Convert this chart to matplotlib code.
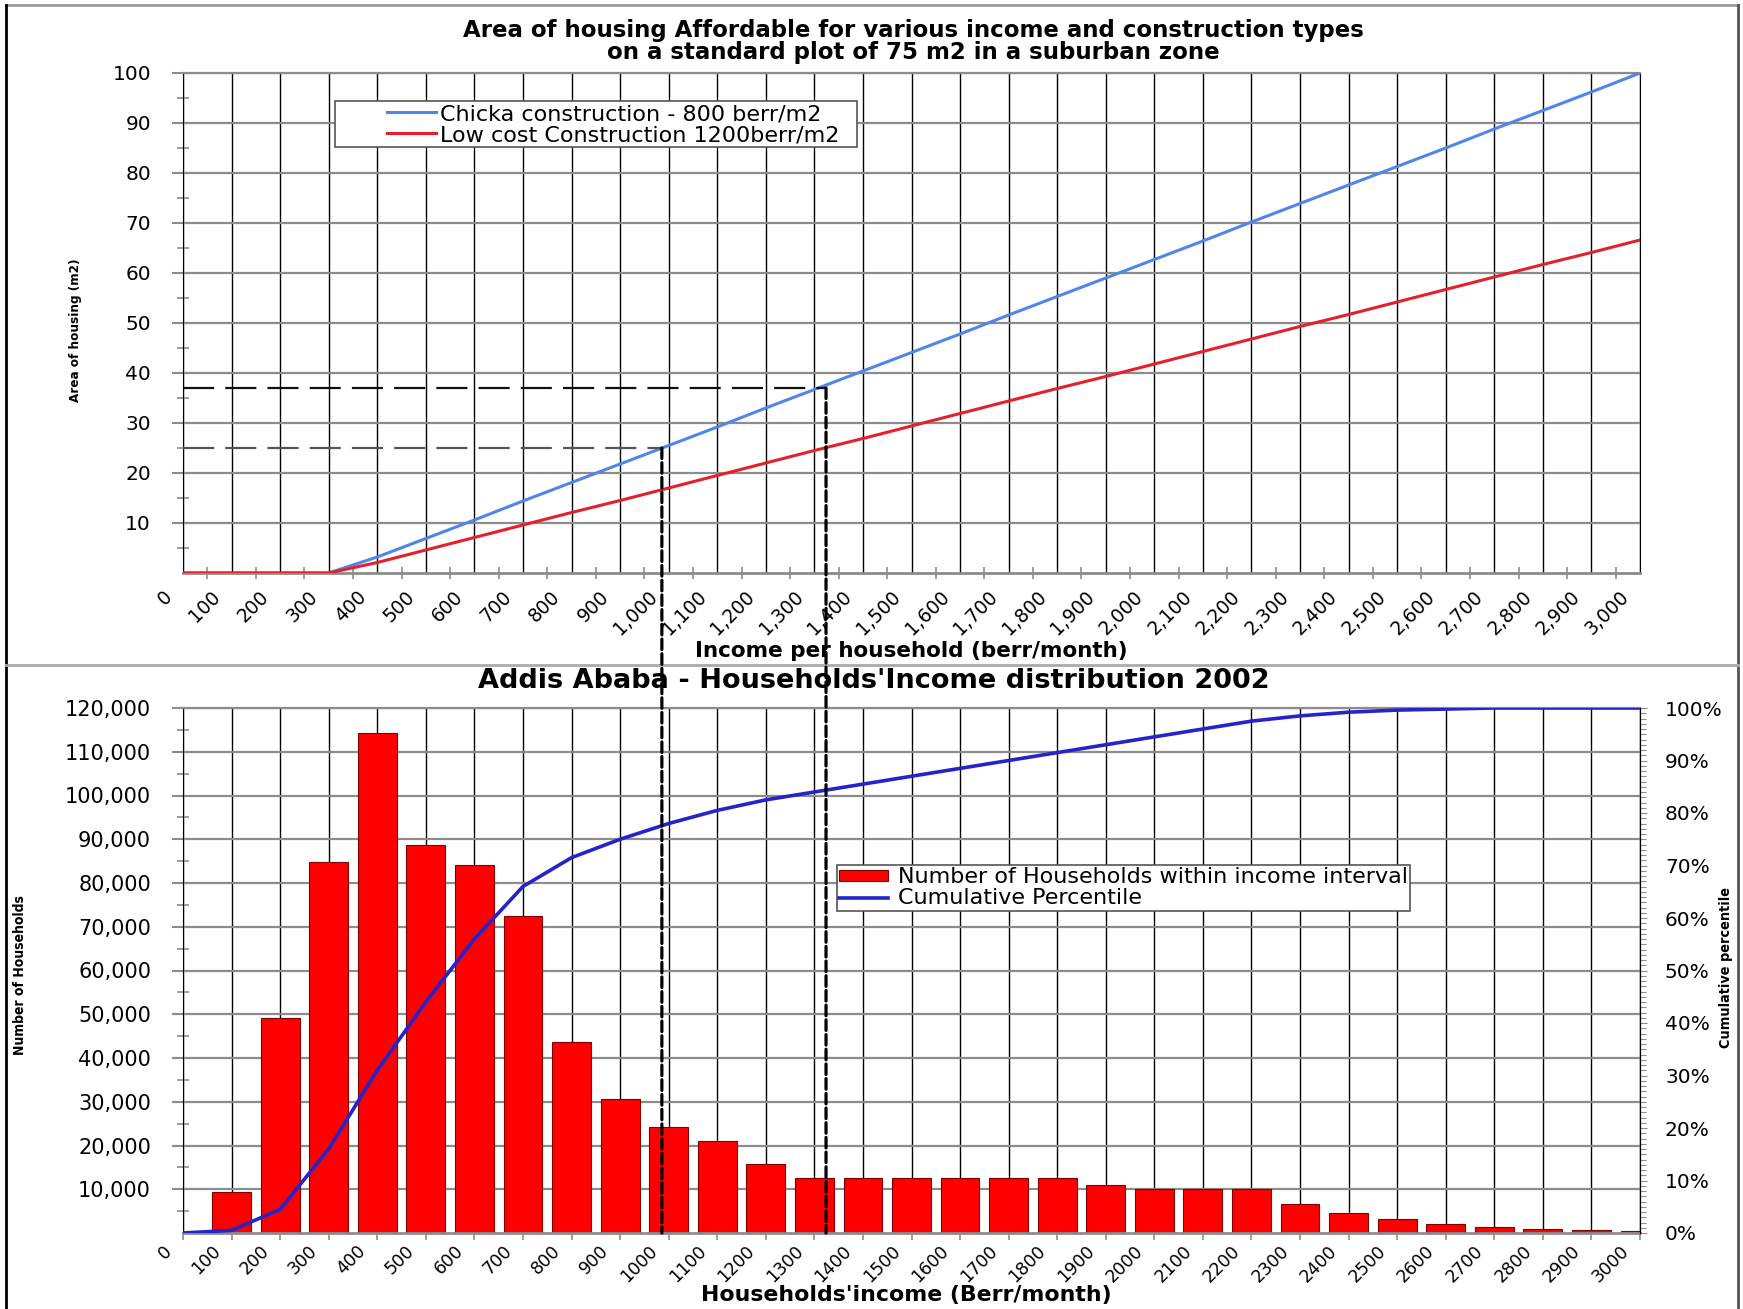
import matplotlib.pyplot as plt
import numpy as np
from matplotlib.lines import Line2D
from matplotlib.patches import Rectangle, ConnectionPatch
from matplotlib.transforms import ScaledTranslation

W, H = 1743, 1309

# categories (income per household, berr/month)
income = [0, 100, 200, 300, 400, 500, 600, 700, 800, 900, 1000,
          1100, 1200, 1300, 1400, 1500, 1600, 1700, 1800, 1900, 2000,
          2100, 2200, 2300, 2400, 2500, 2600, 2700, 2800, 2900, 3000]

# top chart: affordable area (m2)
chicka_area = [0, 0, 0, 0, 3.2, 6.9, 10.6, 14.4, 18.1, 21.8, 25.5,
               29.2, 33.0, 36.7, 40.4, 44.1, 47.8, 51.6, 55.3, 59.0, 62.7,
               66.4, 70.2, 73.9, 77.6, 81.3, 85.0, 88.8, 92.5, 96.2, 100.0]
lowcost_area = [0, 0, 0, 0, 2.1, 4.6, 7.1, 9.6, 12.1, 14.5, 17.0,
                19.5, 22.0, 24.5, 26.9, 29.4, 31.9, 34.4, 36.9, 39.3, 41.8,
                44.3, 46.8, 49.3, 51.7, 54.2, 56.7, 59.2, 61.7, 64.1, 66.6]

# bottom chart: households per income interval, cumulative percentile
households = [0, 9300, 49200, 84800, 114400, 88800, 84200, 72500, 43600, 30700, 24300,
              21100, 15700, 12500, 12500, 12500, 12500, 12500, 12500, 11000, 10100,
              10100, 10100, 6600, 4500, 3100, 2000, 1400, 1000, 700, 450]
cumulative = [0, 0.5, 4.5, 16, 31, 44, 56, 66, 71.5, 75, 78,
              80.5, 82.5, 84, 85.5, 87, 88.5, 90, 91.5, 93, 94.5,
              96, 97.5, 98.5, 99.2, 99.6, 99.8, 100, 100, 100, 100]

# reference readings (income, area)
marker_low = (986, 25)
marker_high = (1324, 37)

GRAY = '#8c8c8c'


def px(x0, y0, x1, y1):
    return [x0 / W, 1 - y1 / H, (x1 - x0) / W, (y1 - y0) / H]


fig = plt.figure(figsize=(W / 100, H / 100), dpi=100)
ax1 = fig.add_axes(px(183, 73, 1640, 573))
ax2 = fig.add_axes(px(183, 708, 1640, 1233))

# ---------- top chart ----------
ax1.plot(income, chicka_area, color='#4f86e8', lw=2.2, zorder=3,
         label='Chicka construction - 800 berr/m2')
ax1.plot(income, lowcost_area, color='#e4202a', lw=2.2, zorder=3,
         label='Low cost Construction 1200berr/m2')
ax1.plot([0, marker_high[0]], [marker_high[1]] * 2, color='#111111', lw=1.6,
         ls=(0, (14, 5)), zorder=4)
ax1.plot([0, marker_low[0]], [marker_low[1]] * 2, color='#555555', lw=1.6,
         ls=(0, (14, 5)), zorder=4)

ax1.set_xlim(0, 3000)
ax1.set_ylim(0, 100)
ax1.set_xticks(income)
ax1.set_xticklabels([f'{v:,}' for v in income], rotation=45, ha='right',
                    va='center', rotation_mode='anchor', fontsize=13.5)
ax1.set_xticks(np.arange(50, 3000, 100), minor=True)
ax1.set_yticks(range(10, 101, 10))
ax1.set_yticks(range(5, 100, 10), minor=True)
ax1.tick_params(axis='y', which='major', length=8, width=1.5, color=GRAY,
                labelsize=14.5, pad=15)
ax1.tick_params(axis='y', which='minor', length=9, width=1.2, color=GRAY,
                direction='inout')
ax1.tick_params(axis='x', which='major', length=0, pad=15)
ax1.tick_params(axis='x', which='minor', length=8, width=1.2, color=GRAY,
                direction='inout')
ax1.grid(axis='x', which='major', color='black', lw=1)
ax1.grid(axis='y', which='major', color=GRAY, lw=1.6)
ax1.grid(False, which='minor')
ax1.spines['left'].set_color('black')
ax1.spines['right'].set_color('black')
ax1.spines['top'].set_color(GRAY)
ax1.spines['top'].set_linewidth(1.6)
ax1.spines['bottom'].set_color(GRAY)
ax1.spines['bottom'].set_linewidth(2)

ax1.add_patch(Rectangle((335 / W, 1 - 147 / H), 522 / W, 46 / H,
                        transform=fig.transFigure, facecolor='white',
                        edgecolor='#555555', lw=1.2, zorder=5, clip_on=False))
leg1 = ax1.legend(loc='upper left', bbox_to_anchor=(387 / W, 1 - 104 / H),
                  bbox_transform=fig.transFigure, frameon=False, fontsize=16,
                  borderaxespad=0, borderpad=0.0, labelspacing=0.05,
                  handlelength=2.2, handletextpad=0.2)
leg1.set_zorder(6)

# ---------- bottom chart ----------
bars = ax2.bar(income, households, width=80, color='#ff0000', edgecolor='#800000',
               lw=0.8, zorder=2)
ax2.set_xlim(0, 3000)
ax2.set_ylim(0, 120000)
ax2.set_xticks(income)
ax2.set_xticklabels([str(v) for v in income], rotation=45, ha='right',
                    va='center', rotation_mode='anchor', fontsize=12.5)
ax2.set_yticks(range(10000, 120001, 10000))
ax2.set_yticklabels([f'{v:,}' for v in range(10000, 120001, 10000)])
ax2.set_yticks(range(5000, 120000, 10000), minor=True)
ax2.tick_params(axis='y', which='major', length=8, width=1.5, color=GRAY,
                labelsize=15, pad=15)
ax2.tick_params(axis='y', which='minor', length=9, width=1.2, color=GRAY,
                direction='inout')
ax2.tick_params(axis='x', which='major', length=5, width=1.2, color=GRAY, pad=6)
ax2.grid(axis='x', which='major', color='black', lw=1)
ax2.grid(axis='y', which='major', color=GRAY, lw=1.6)
ax2.grid(False, which='minor')
ax2.set_axisbelow(True)
ax2.spines['left'].set_color('black')
ax2.spines['top'].set_color(GRAY)
ax2.spines['top'].set_linewidth(1.6)
ax2.spines['bottom'].set_color(GRAY)
ax2.spines['bottom'].set_linewidth(2)

ax2r = ax2.twinx()
cum_line, = ax2r.plot(income, cumulative, color='#2424c8', lw=2.6, zorder=3)
ax2r.set_ylim(0, 100)
ax2r.set_yticks(range(0, 101, 10))
ax2r.set_yticklabels([f'{v}%' for v in range(0, 101, 10)])
ax2r.set_yticks(range(0, 101, 1), minor=True)
ax2r.tick_params(axis='y', which='major', length=5, color=GRAY, labelsize=14.5, pad=13)
ax2r.tick_params(axis='y', which='minor', length=4, color=GRAY, width=0.8)
for s in ['top', 'left', 'bottom']:
    ax2r.spines[s].set_visible(False)
ax2r.spines['right'].set_color('black')

for ax in (ax1, ax2):
    for lab in ax.get_xticklabels():
        lab.set_transform(lab.get_transform() + ScaledTranslation(-0.14, 0, fig.dpi_scale_trans))

leg2 = ax2r.legend([bars, cum_line],
                   ['Number of Households within income interval', 'Cumulative Percentile'],
                   loc='upper left', bbox_to_anchor=(837 / W, 1 - 865 / H),
                   bbox_transform=fig.transFigure, fontsize=16, frameon=True,
                   fancybox=False, edgecolor='#555555', framealpha=1,
                   borderaxespad=0, borderpad=0.1, labelspacing=0.05,
                   handlelength=2.2, handleheight=0.4, handletextpad=0.45)
leg2.get_frame().set_linewidth(1.2)

# dashed reading lines running down through both charts
for x, y in (marker_low, marker_high):
    con = ConnectionPatch(xyA=(x, y), coordsA=ax1.transData, xyB=(x, 0),
                          coordsB=ax2.transData, color='black', lw=2.3,
                          linestyle=(0, (3.3, 1.3)), zorder=10)
    fig.add_artist(con)

# ---------- texts ----------
fig.text(913 / W, 1 - 30 / H,
         'Area of housing Affordable for various income and construction types',
         ha='center', va='center', fontsize=16.5, fontweight='bold')
fig.text(913 / W, 1 - 53 / H, 'on a standard plot of 75 m2 in a suburban zone',
         ha='center', va='center', fontsize=16.5, fontweight='bold')
fig.text(911 / W, 1 - 651 / H, 'Income per household (berr/month)',
         ha='center', va='center', fontsize=15.5, fontweight='bold')
fig.text(874 / W, 1 - 681 / H, "Addis Ababa - Households'Income distribution 2002",
         ha='center', va='center', fontsize=19.5, fontweight='bold')
fig.text(906 / W, 1 - 1295 / H, "Households'income (Berr/month)",
         ha='center', va='center', fontsize=15.8, fontweight='bold')
fig.text(75 / W, 1 - 330 / H, 'Area of housing (m2)', rotation=90,
         ha='center', va='center', fontsize=9.6, fontstretch='condensed',
         fontweight='bold')
fig.text(20 / W, 1 - 975 / H, 'Number of Households', rotation=90,
         ha='center', va='center', fontsize=10, fontstretch='condensed',
         fontweight='bold')
fig.text(1726 / W, 1 - 968 / H, 'Cumulative percentile', rotation=90,
         ha='center', va='center', fontsize=10.4, fontstretch='condensed',
         fontweight='bold')

# ---------- outer frame ----------
def fline(xs, ys, **kw):
    fig.add_artist(Line2D([x / W for x in xs], [1 - y / H for y in ys], **kw))

fline([6, 1738], [5, 5], color='#9a9a9a', lw=2)
fline([6, 6], [5, 1309], color='black', lw=2)
fline([1738, 1738], [5, 1309], color='#555555', lw=2)
fline([6, 1738], [665, 665], color='#aaaaaa', lw=2)

fig.savefig('out.png', dpi=100, facecolor='white')
